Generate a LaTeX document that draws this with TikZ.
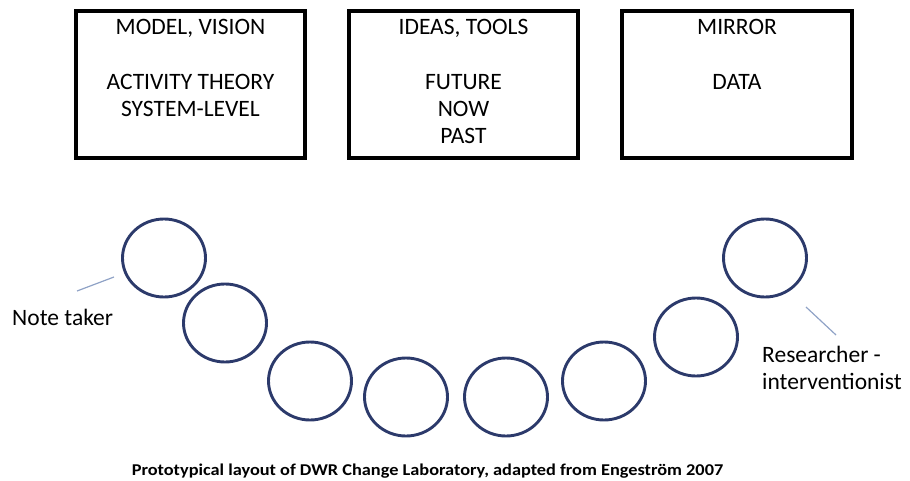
\documentclass[tikz,border=0pt]{standalone}
\usepackage{fontspec}
\setmainfont{Carlito}
\usetikzlibrary{shapes.geometric}
\definecolor{seatblue}{HTML}{2C3A6B}
\definecolor{leadgray}{HTML}{8FA2C6}
\begin{document}
\begin{tikzpicture}[x=1pt,y=-1pt,
  board/.style={draw=black,line width=3.2pt,inner sep=0pt},
  boxtext/.style={anchor=base,inner sep=0pt,font=\fontsize{23.5}{27}\selectfont},
  seat/.style={draw=seatblue,line width=2.9pt,ellipse,minimum width=83pt,minimum height=78pt,inner sep=0pt},
  lead/.style={draw=leadgray,line width=1.2pt},
  lbl/.style={anchor=base west,inner sep=0pt,font=\fontsize{23.5}{27}\selectfont},
  caption/.style={anchor=base,inner sep=0pt,font=\bfseries\fontsize{16.5}{18}\selectfont}]
\useasboundingbox (0,0) rectangle (910,481);
% boards
\node[board,minimum width=229pt,minimum height=147pt] (b1) at (190.5,84.5) {};
\node[board,minimum width=229pt,minimum height=147pt] (b2) at (463.5,84.5) {};
\node[board,minimum width=230pt,minimum height=147pt] (b3) at (737,84.5) {};
% board texts
\node[boxtext] (t1a) at (190.5,35) {MODEL, VISION};
\node[boxtext] (t1b) at (190.5,90) {ACTIVITY THEORY};
\node[boxtext] (t1c) at (190.5,117) {SYSTEM-LEVEL};
\node[boxtext] (t2a) at (463.5,35) {IDEAS, TOOLS};
\node[boxtext] (t2b) at (463.5,90) {FUTURE};
\node[boxtext] (t2c) at (463.5,117) {NOW};
\node[boxtext] (t2d) at (463.5,144) {PAST};
\node[boxtext] (t3a) at (737,35) {MIRROR};
\node[boxtext] (t3b) at (737,90) {DATA};
% seats
\node[seat] (c1) at (164,258) {};
\node[seat] (c2) at (225,323) {};
\node[seat] (c3) at (310,381) {};
\node[seat] (c4) at (406,397) {};
\node[seat] (c5) at (506,397) {};
\node[seat] (c6) at (604,381) {};
\node[seat] (c7) at (696,337) {};
\node[seat] (c8) at (765,258) {};
% labels
\node[lbl] (nt) at (12,325) {Note taker};
\node[lbl] (r1) at (762,362) {Researcher -};
\node[lbl] (r2) at (762,389) {interventionist};
\coordinate (ntA) at (77,291);
\coordinate (ntB) at (114,277);
\coordinate (rA) at (836,335);
\coordinate (rB) at (806,307);
\draw[lead] (ntA) -- (ntB);
\draw[lead] (rA) -- (rB);
% caption
\node[caption] (cap) at (427.5,475) {\scalebox{1.11}[1]{Prototypical layout of DWR Change Laboratory, adapted from Engestr\"om 2007}};
\end{tikzpicture}
\end{document}
